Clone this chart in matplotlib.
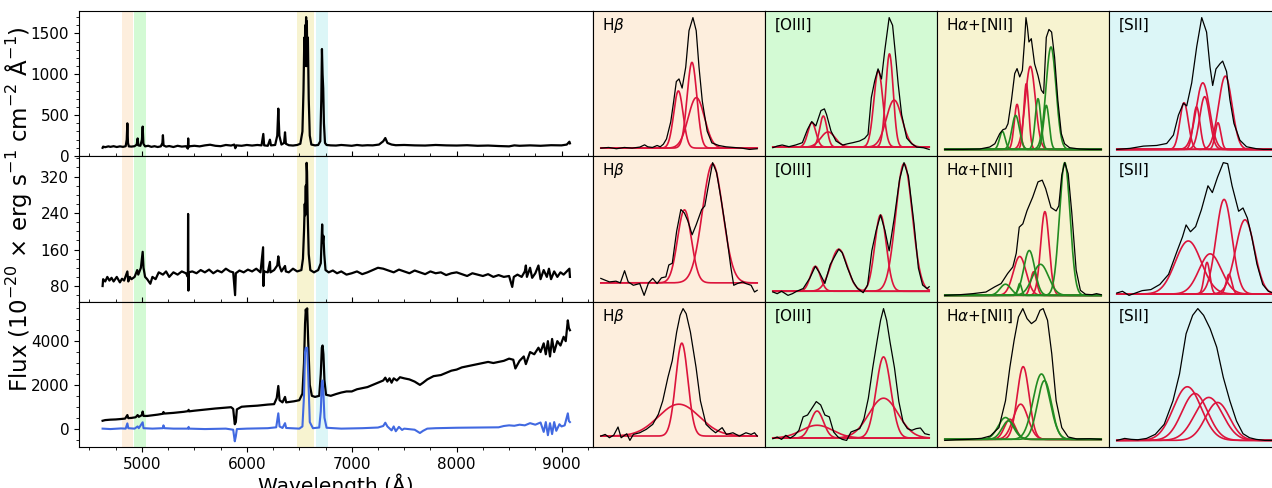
import numpy as np
import matplotlib
matplotlib.use('Agg')
import matplotlib.pyplot as plt
from matplotlib.ticker import AutoMinorLocator, MultipleLocator

# ---------------- full spectra (left column) ----------------
top_wave = [4625, 4630, 4650, 4680, 4700, 4730, 4760, 4790, 4820, 4845, 4855, 4861, 4867, 4875, 4900, 4930, 4950, 4959, 4966, 4985,
            5000, 5007, 5014, 5030, 5060, 5090, 5120, 5150, 5180, 5195, 5200, 5206, 5230, 5260, 5300, 5340, 5380, 5420, 5438, 5441,
            5444, 5460, 5500, 5550, 5600, 5650, 5700, 5750, 5800, 5850, 5880, 5890, 5900, 5950, 6000, 6050, 6100, 6140, 6157, 6165,
            6200, 6220, 6230, 6270, 6290, 6300, 6310, 6330, 6355, 6364, 6372, 6400, 6440, 6480, 6510, 6530, 6540, 6548, 6552, 6556,
            6560, 6565, 6568, 6572, 6576, 6582, 6590, 6600, 6615, 6650, 6680, 6700, 6710, 6716, 6722, 6728, 6735, 6745, 6760, 6800,
            6850, 6900, 6950, 7000, 7050, 7100, 7150, 7200, 7260, 7300, 7320, 7340, 7380, 7420, 7500, 7600, 7700, 7800, 7900, 8000,
            8100, 8200, 8300, 8400, 8500, 8550, 8600, 8700, 8800, 8900, 9000, 9050, 9075, 9080]
top_flux = [100, 115, 108, 118, 112, 120, 110, 118, 112, 120, 200, 400, 160, 118, 115, 120, 140, 215, 130, 125,
            200, 360, 150, 118, 125, 112, 120, 110, 118, 160, 255, 130, 115, 122, 110, 125, 115, 120, 90, 215,
            110, 120, 125, 118, 130, 138, 125, 120, 135, 128, 140, 95, 130, 125, 135, 128, 135, 130, 270, 130,
            125, 200, 130, 135, 250, 580, 250, 140, 160, 290, 150, 132, 128, 135, 150, 300, 800, 1450, 1100, 1600,
            1300, 1700, 1100, 1650, 1200, 1450, 700, 250, 140, 130, 135, 180, 700, 1310, 1000, 830, 400, 160, 135, 130,
            128, 135, 130, 125, 135, 128, 132, 130, 140, 180, 220, 160, 140, 132, 135, 130, 128, 135, 130, 128,
            132, 125, 128, 122, 118, 130, 125, 130, 125, 132, 130, 140, 175, 155]

mid_wave = [4625, 4630, 4650, 4670, 4690, 4710, 4730, 4760, 4790, 4810, 4830, 4850, 4861, 4870, 4885, 4900, 4930, 4955, 4965, 4990,
            5007, 5015, 5030, 5050, 5080, 5100, 5130, 5160, 5200, 5230, 5260, 5300, 5340, 5380, 5420, 5438, 5440, 5443, 5446, 5480,
            5520, 5560, 5600, 5640, 5680, 5720, 5760, 5800, 5840, 5870, 5888, 5895, 5930, 5970, 6010, 6050, 6090, 6130, 6155, 6158,
            6165, 6200, 6220, 6225, 6260, 6290, 6300, 6310, 6330, 6364, 6372, 6400, 6440, 6480, 6520, 6535, 6545, 6552, 6556, 6562,
            6566, 6570, 6574, 6580, 6590, 6605, 6640, 6680, 6705, 6712, 6718, 6724, 6730, 6738, 6750, 6780, 6820, 6860, 6900, 6950,
            7000, 7050, 7100, 7150, 7200, 7250, 7300, 7350, 7400, 7450, 7500, 7550, 7600, 7650, 7700, 7750, 7800, 7850, 7900, 7950,
            8000, 8050, 8100, 8150, 8200, 8250, 8300, 8350, 8400, 8450, 8500, 8530, 8545, 8580, 8620, 8650, 8660, 8670, 8700, 8720,
            8750, 8780, 8800, 8830, 8860, 8880, 8900, 8930, 8960, 8990, 9020, 9050, 9075, 9080]
mid_flux = [80, 95, 90, 100, 92, 98, 90, 100, 88, 96, 92, 105, 112, 90, 100, 95, 100, 115, 105, 120,
            155, 120, 100, 95, 85, 100, 95, 110, 105, 112, 100, 110, 105, 112, 108, 100, 238, 70, 110, 112,
            108, 115, 110, 116, 108, 114, 110, 118, 112, 110, 60, 108, 114, 110, 116, 112, 118, 110, 165, 80,
            112, 110, 133, 110, 115, 125, 145, 125, 112, 124, 112, 110, 118, 112, 115, 140, 200, 260, 235, 300,
            240, 350, 330, 240, 150, 115, 110, 115, 130, 175, 215, 175, 190, 150, 115, 110, 114, 108, 112, 105,
            108, 112, 106, 110, 115, 120, 118, 114, 110, 116, 112, 108, 114, 110, 106, 112, 108, 110, 104, 108,
            110, 106, 102, 108, 105, 102, 106, 100, 104, 100, 102, 78, 100, 105, 100, 112, 125, 100, 120, 98,
            108, 125, 95, 115, 100, 118, 95, 112, 100, 110, 105, 112, 118, 100]

bot_wave = [4625, 4650, 4700, 4750, 4800, 4840, 4861, 4870, 4900, 4940, 4959, 4970, 5000, 5007, 5015, 5050, 5100, 5150, 5200, 5205,
            5215, 5300, 5400, 5440, 5445, 5450, 5500, 5600, 5700, 5800, 5850, 5870, 5885, 5895, 5905, 5950, 6000, 6100, 6200, 6260,
            6285, 6300, 6312, 6340, 6364, 6375, 6450, 6500, 6530, 6545, 6555, 6562, 6568, 6575, 6585, 6600, 6620, 6650, 6690, 6705,
            6715, 6722, 6730, 6740, 6755, 6800, 6850, 6900, 6950, 7000, 7050, 7100, 7150, 7200, 7250, 7300, 7320, 7340, 7360, 7380,
            7400, 7430, 7460, 7500, 7550, 7600, 7650, 7680, 7720, 7780, 7850, 7900, 7950, 8000, 8050, 8100, 8150, 8200, 8250, 8300,
            8350, 8400, 8450, 8500, 8540, 8560, 8600, 8640, 8660, 8700, 8740, 8780, 8800, 8830, 8850, 8870, 8890, 8910, 8930, 8960,
            8990, 9020, 9040, 9060, 9070, 9080]
bot_flux = [360, 390, 410, 420, 440, 460, 620, 480, 490, 520, 620, 540, 620, 780, 580, 580, 610, 640, 680, 760,
            690, 720, 770, 800, 860, 790, 820, 870, 920, 960, 980, 900, 200, 300, 880, 1000, 1020, 1050, 1100, 1120,
            1400, 1950, 1300, 1200, 1450, 1200, 1250, 1300, 1600, 3000, 4800, 5450, 5200, 5500, 4000, 2000, 1500, 1450, 1500, 2500,
            3700, 3800, 3400, 2200, 1550, 1500, 1580, 1650, 1700, 1700, 1800, 1850, 1900, 2000, 2100, 2200, 2330, 2150, 2300, 2100,
            2300, 2200, 2350, 2300, 2250, 2150, 2000, 2100, 2250, 2400, 2450, 2550, 2650, 2700, 2800, 2850, 2900, 2950, 3000, 3050,
            3000, 3050, 3100, 3200, 3150, 2750, 3100, 3300, 2950, 3500, 3400, 3700, 3500, 3900, 3400, 4000, 3300, 4100, 3500, 4000,
            3800, 4200, 4000, 4950, 4600, 4500]

emis_wave = [4625, 4700, 4800, 4845, 4861, 4870, 4930, 4959, 4970, 5007, 5015, 5100, 5200, 5205, 5215, 5300, 5440, 5445, 5450, 5600,
             5800, 5870, 5885, 5895, 5905, 6000, 6200, 6280, 6300, 6312, 6340, 6364, 6375, 6500, 6530, 6545, 6555, 6562, 6570, 6575,
             6585, 6600, 6630, 6690, 6705, 6715, 6722, 6730, 6740, 6760, 6900, 7100, 7250, 7300, 7320, 7340, 7380, 7400, 7420, 7450,
             7480, 7500, 7600, 7650, 7680, 7720, 7800, 8000, 8200, 8400, 8450, 8500, 8550, 8600, 8650, 8700, 8750, 8800, 8830, 8850,
             8870, 8890, 8910, 8930, 8950, 8980, 9000, 9030, 9060, 9070, 9080]
emis_flux = [0, -20, 10, 0, 240, 20, 0, 100, 20, 290, 20, 0, 20, 150, 20, 0, 0, 80, 0, -20,
             0, -50, -580, -350, -20, 0, 20, 60, 700, 100, 30, 250, 30, 0, 100, 1500, 3500, 3700, 3650, 3700,
             2500, 300, 20, 50, 800, 2100, 2200, 1600, 500, 40, 0, 20, 50, 120, 270, 100, -80, 100, -120, 80,
             -60, 0, -50, -200, -100, 0, 20, 40, 50, 60, 120, 150, 130, 180, 150, 250, 180, 280, -150, 300,
             -300, 250, -250, 300, -100, 200, 100, 150, 700, 350, 300]

# wavelength windows highlighted in the full spectra
band_lo = [4810, 4920, 6474, 6657]
band_hi = [4914, 5037, 6638, 6773]
band_colors = ['#fdeedd', '#d3fad4', '#f7f3d0', '#dcf6f7']
line_names = [r'H$\beta$', '[OIII]', r'H$\alpha$+[NII]', '[SII]']

# ---------------- line zooms (x: relative position 0-100, y: % of peak) ----------------
# row 1
hb1_x = [0, 5, 10, 15, 20, 25, 28, 30, 33, 36, 38, 40, 42, 44.7, 46.5, 48.3, 50, 52, 54.3, 56.4, 58.9, 61, 62.8, 64.9, 68, 71, 75.5, 80, 85, 90, 95, 100]
hb1_y = [0, 0.5, -0.5, 0.5, 0, 0.8, 2.5, 1, 0.5, 2, 1, 3, 7, 20, 35, 51, 53, 46, 62, 90, 100, 90, 62, 36, 13, 4, 2, 1, 0.5, 0, -1, -0.5]
hb1_cen = [49.6, 58.3, 61.1]
hb1_amp = [43.8, 65.7, 38.7]
hb1_sig = [3.0, 3.1, 5.2]

o31_x = [0, 2.8, 6, 10.3, 14.6, 18.9, 22.2, 24.9, 27.5, 30.8, 33, 34.4, 37.2, 40.4, 44.7, 48, 51.2, 55.5, 58.7, 60.9, 63, 65.2,
         67.3, 69.5, 71.6, 74.4, 76.6, 78.1, 80.2, 82.4, 85.6, 88.8, 92, 96.3, 100]
o31_y = [-0.5, 0.8, 1.6, 0.3, 1.6, 3.4, 13.7, 19.7, 16.3, 28.2, 29.5, 25, 12.4, 4.7, 1.6, 2.6, 3.4, 4.7, 6.7, 9.8, 38.3, 51.3,
         60.4, 52.6, 74.6, 100, 94, 75.6, 48.4, 25, 7, 2.6, 0, -0.5, -1.8]
o31_cen = [25, 32.3, 35.3, 67.5, 74.6, 77.6]
o31_amp = [18.9, 24, 11.7, 59, 72, 36.3]
o31_sig = [2.6, 2.3, 4.6, 2.9, 2.4, 5.0]

ha1_x = [0, 11.7, 22.3, 28.7, 32, 35.1, 37.2, 38.9, 40.4, 42.6, 44.7, 46.2, 47.9, 49.6, 51.1, 51.9, 52.8, 53.8, 55.3, 57.4, 59.6,
         61.7, 63.2, 64.9, 66.6, 68.3, 70.2, 72.3, 74.5, 76.6, 79.8, 86.2, 92.6, 100]
ha1_y = [0, 0, 0.3, 1.8, 4.3, 11.9, 15, 15.7, 19.5, 37.2, 57.5, 61.3, 55, 60, 84, 100, 93, 81.5, 84, 65, 56,
         45, 42.5, 85, 91, 89, 70, 37, 12, 4.3, 1.3, 0.3, 0, 0]
ha1_red_cen = [46.2, 52.1, 54.7]
ha1_red_amp = [34.2, 49.9, 63]
ha1_red_sig = [1.8, 1.6, 3.2]
ha1_grn_cen = [36.8, 45.3, 59.6, 64.9, 67.9]
ha1_grn_amp = [13.7, 25.8, 38.5, 33.4, 77.7]
ha1_grn_sig = [1.8, 2.4, 1.8, 1.8, 3.2]

s21_x = [0, 8.5, 17, 25.5, 31.9, 36.2, 39.4, 42.6, 44.7, 47.9, 51.1, 54.3, 57.4, 59.6, 61.3, 63.4, 66, 67.7, 70.2, 72.3, 74.9,
         78.7, 83, 89.4, 93.6, 100]
s21_y = [0, 0.8, 2.5, 3, 4.5, 10.9, 26, 35, 33, 50.5, 78, 100, 89, 62.6, 48.5, 61, 65, 67, 59, 37.9, 19.7,
         7, 2, 0.5, 0, 0]
s21_cen = [43, 51, 55, 56.2, 64.7, 69.4]
s21_amp = [35.4, 32.3, 50.5, 40, 20.2, 55.6]
s21_sig = [2.7, 2.2, 4.3, 3.2, 1.8, 4.3]

# row 2
hb2_x = [0, 2.8, 5.5, 9.7, 12.5, 15.2, 17.5, 20.8, 24.9, 27.7, 30.5, 33.2, 36, 38.8, 41.6, 43.5, 45.7, 48.5, 51.2, 53.5, 55.7,
         58.4, 60.9, 64.5, 66.5, 68.4, 71.5, 74, 77, 80.3, 83.1, 85, 87.3, 90.6, 92.8, 96.1, 98.3, 100]
hb2_y = [3.7, 2.2, 0.8, 1.4, 0, 10.1, 0.8, -2, -0.6, -10.4, 0, 3.7, -0.6, 4.2, 5, 14.9, 16.3, 43, 61, 58, 51.4,
         40, 48, 61, 64, 78, 100, 92, 69, 41, 13.5, -2, -0.6, 0.8, -0.6, -2, -7.6, -6.2]
hb2_cen = [53.5, 71.5]
hb2_amp = [60.7, 99]
hb2_sig = [4.4, 6.5]

o32_x = [0, 2.8, 5.6, 9.7, 12.5, 15.3, 19.4, 23.6, 27.2, 30, 33.3, 36.7, 40.3, 42.2, 44.4, 47.8, 51.4, 54.2, 57.8, 60.6, 63.3,
         66.1, 68.9, 71.7, 74.4, 77.8, 81.1, 83.9, 86.7, 90.3, 93.1, 95.8, 98.6, 100]
o32_y = [-0.5, -1.9, 0, -3.2, -1.9, 0, 2.1, 10.1, 19.4, 14.1, 6.1, 20.7, 28.7, 32.7, 30, 18, 7.4, 2.1, -1.1, 4.8, 31.4,
         47.3, 59.3, 47.3, 31.4, 58, 87.2, 100, 89.6, 52.4, 18, 4.8, 2.1, 3.5]
o32_cen = [27.2, 42.2, 68.9, 83.9]
o32_amp = [19.4, 32.7, 59.3, 99.2]
o32_sig = [3.2, 5.3, 3.7, 5.3]

ha2_x = [0, 9.7, 18, 26.3, 31.9, 36, 40.2, 43.5, 45.7, 47.6, 49.9, 52.6, 56.2, 59.6, 62.3, 64.5, 67.9, 71.2, 72.9, 74.8, 76.7,
         78.9, 81.2, 84, 86.7, 90, 94.2, 97, 100]
ha2_y = [0, 0.5, 1.3, 2.5, 6.4, 8.9, 16.5, 21.4, 31.8, 51.4, 53.9, 63.9, 74, 85.5, 86.8, 80.4, 66.2, 63.6, 67.4, 90.6, 100,
         91.6, 62.3, 19, 3.8, 0.8, 0.5, 1.3, 0.5]
ha2_red_cen = [47.9, 56.8, 64]
ha2_red_amp = [29.3, 17.8, 63.1]
ha2_red_sig = [4.1, 1.9, 2.7]
ha2_grn_cen = [38.8, 47.9, 54, 61.2, 76.7]
ha2_grn_amp = [8.4, 8.9, 33.8, 23.4, 100]
ha2_grn_sig = [3.5, 1.2, 3.5, 5.1, 3.4]

s22_x = [0, 3.6, 7.8, 12, 16.2, 21.8, 27.5, 33.1, 38.7, 42, 44.3, 47.1, 50.4, 54.1, 58.3, 61.1, 64.4, 68.1, 70.9, 73.7, 77.9,
         80.7, 83.5, 86.3, 89.6, 93.3, 96.9, 100]
s22_y = [0.8, 2.1, -1, 0.8, 2.6, 3.4, 7.3, 15, 33.2, 43.5, 52.6, 47.4, 51.3, 64.2, 82.4, 77.2, 88.9, 100, 99.2, 82.4, 63,
         65.5, 57.8, 43.5, 22.8, 7.3, 2.1, 0.8]
s22_cen = [45.7, 57.7, 59.7, 68.6, 71.7, 82]
s22_amp = [40.4, 24.1, 30.6, 72, 15, 56.5]
s22_sig = [8.3, 1.8, 7.1, 5.1, 1.8, 6.0]

# row 3
hb3_x = [0, 2.8, 5.5, 8.3, 11, 13, 16.6, 18.6, 20.8, 24.9, 29.1, 33.2, 36.8, 39.6, 42.9, 45.7, 48.5, 50.7, 52.6, 54.6, 57.3,
         60.9, 63.7, 67.3, 70.6, 73.4, 77.6, 80.3, 84.5, 88.6, 92.8, 96.1, 98.3, 100]
hb3_y = [0, 1.3, -1.3, 0.8, 7.1, -1.3, 1.8, -3.4, 1.3, 2.6, 5.3, 9.2, 17.1, 27.6, 46, 59.2, 81.6, 94.7, 100, 96, 81.6,
         53.9, 27.6, 9.2, 5.3, 2.6, 6.6, 1.3, 2.6, 0, 2.6, 1.3, 2.6, 0]
hb3_cen = [51.8, 49.9]
hb3_amp = [72.9, 25]
hb3_sig = [3.9, 13.2]

o33_x = [0, 2.8, 5.6, 8.3, 11.1, 13.9, 16.7, 19.4, 22.2, 25, 27.8, 30.6, 33.3, 36.1, 38.9, 41.7, 44.4, 47.2, 50, 52.8, 55.6,
         58.3, 61.1, 63.9, 66.7, 68.9, 70.8, 72.8, 75, 77.8, 80.6, 83.3, 86.1, 88.9, 91.7, 94.4, 97.2, 100]
o33_y = [-0.5, 0.8, -1, 2.1, 0, 2.1, 6, 16.4, 17.8, 23, 28.2, 25.6, 17.8, 16.4, 4.7, 0.8, -1, -1.8, 4.7, 6, 7.3,
         15, 30.8, 54.3, 75.2, 90.9, 100, 90.9, 73.9, 54.3, 28.2, 12.5, 7.3, 6, 7.3, 7.8, 3.4, 2.6]
o33_cen = [28.3, 28.3, 70.8, 70.8]
o33_amp = [20.9, 9.9, 62.7, 30.8]
o33_sig = [4.1, 10, 4.7, 9.4]

ha3_x = [0, 6.9, 15.2, 23.5, 29.1, 34.6, 38.8, 41.6, 44.3, 47.1, 49.9, 52.6, 55.4, 58.2, 60.9, 62.9, 65.7, 68.4, 71.2, 74.8,
         78.9, 84.5, 92.8, 100]
ha3_y = [-0.8, -0.3, 0, 0.8, 2.6, 9, 29.5, 55.1, 75.6, 93.6, 100, 92.3, 88.5, 91, 98.7, 100, 91, 65.4, 29.5, 9,
         1.8, 0.3, 0.5, 0]
ha3_red_cen = [41.6, 48.5, 50.1]
ha3_red_amp = [15.4, 26.9, 55.6]
ha3_red_sig = [3.5, 4.7, 3.8]
ha3_grn_cen = [38.8, 40.7, 61.8, 63.7]
ha3_grn_amp = [16.7, 14.1, 50, 44.9]
ha3_grn_sig = [4.7, 4.1, 5.3, 4.5]

s23_x = [0, 5, 9.2, 13.4, 19, 24.6, 30.3, 35.9, 40.1, 44.3, 48.5, 51.8, 55.5, 59.7, 63.9, 68.1, 72.3, 76.5, 80.7, 84.9,
         89.1, 94.7, 100]
s23_y = [0, 1.5, 0.8, 0.5, 1.5, 4.6, 12.2, 30, 50.4, 80.9, 94.9, 100, 94.9, 84.7, 70.7, 47.8, 30, 14.8, 5.1, 2,
         0.8, 0, 0]
s23_cen = [45.1, 49.9, 58.8, 64.4]
s23_amp = [40.7, 35.6, 32.6, 28.8]
s23_sig = [8.9, 8.3, 8.9, 7.7]

# ------------------------------------------------------------------
W, H = 1272, 488
fig = plt.figure(figsize=(W / 100, H / 100), dpi=100)


def add_px_axes(x0, y0, x1, y1):
    return fig.add_axes([x0 / W, 1 - y1 / H, (x1 - x0) / W, (y1 - y0) / H])


def gauss(x, c, a, s):
    return a * np.exp(-0.5 * ((x - c) / s) ** 2)


row_edges = [(11, 156), (156, 302), (302, 447)]
col_edges = [(593, 765), (765, 937), (937, 1109), (1109, 1281)]

# left column
left_axes = []
for i, (y0, y1) in enumerate(row_edges):
    ax = add_px_axes(79, y0, 593, y1)
    for lo, hi, c in zip(band_lo, band_hi, band_colors):
        ax.axvspan(lo, hi, color=c, lw=0, zorder=0)
    ax.set_xlim(4400, 9300)
    ax.xaxis.set_major_locator(MultipleLocator(1000))
    ax.xaxis.set_minor_locator(MultipleLocator(250))
    ax.yaxis.set_minor_locator(AutoMinorLocator())
    ax.tick_params(axis='y', labelsize=11)
    ax.tick_params(axis='x', labelsize=11)
    if i < 2:
        ax.tick_params(axis='x', which='both', direction='in', labelbottom=False)
    left_axes.append(ax)

ax = left_axes[0]
ax.plot(top_wave, top_flux, color='k', lw=1.6)
ax.set_ylim(0, 1775)
ax.set_yticks([0, 500, 1000, 1500])

ax = left_axes[1]
ax.plot(mid_wave, mid_flux, color='k', lw=1.6)
ax.set_ylim(45, 365)
ax.set_yticks([80, 160, 240, 320])

ax = left_axes[2]
ax.plot(bot_wave, bot_flux, color='k', lw=1.6)
ax.plot(emis_wave, emis_flux, color='royalblue', lw=1.5)
ax.set_ylim(-840, 5790)
ax.set_yticks([0, 2000, 4000])
ax.set_xticks([5000, 6000, 7000, 8000, 9000])
ax.set_xlabel(u'Wavelength (\u00c5)', fontsize=14.5, labelpad=1)

fig.text(19 / W, 1 - 209 / H, u'Flux (10$^{-20}$ \u00d7 erg s$^{-1}$ cm$^{-2}$ \u00c5$^{-1}$)',
         rotation=90, ha='center', va='center', fontsize=16.5)

# zoom panels
panels = [
    [(hb1_x, hb1_y, [(hb1_cen, hb1_amp, hb1_sig, 'crimson')]),
     (o31_x, o31_y, [(o31_cen, o31_amp, o31_sig, 'crimson')]),
     (ha1_x, ha1_y, [(ha1_red_cen, ha1_red_amp, ha1_red_sig, 'crimson'),
                     (ha1_grn_cen, ha1_grn_amp, ha1_grn_sig, 'forestgreen')]),
     (s21_x, s21_y, [(s21_cen, s21_amp, s21_sig, 'crimson')])],
    [(hb2_x, hb2_y, [(hb2_cen, hb2_amp, hb2_sig, 'crimson')]),
     (o32_x, o32_y, [(o32_cen, o32_amp, o32_sig, 'crimson')]),
     (ha2_x, ha2_y, [(ha2_red_cen, ha2_red_amp, ha2_red_sig, 'crimson'),
                     (ha2_grn_cen, ha2_grn_amp, ha2_grn_sig, 'forestgreen')]),
     (s22_x, s22_y, [(s22_cen, s22_amp, s22_sig, 'crimson')])],
    [(hb3_x, hb3_y, [(hb3_cen, hb3_amp, hb3_sig, 'crimson')]),
     (o33_x, o33_y, [(o33_cen, o33_amp, o33_sig, 'crimson')]),
     (ha3_x, ha3_y, [(ha3_red_cen, ha3_red_amp, ha3_red_sig, 'crimson'),
                     (ha3_grn_cen, ha3_grn_amp, ha3_grn_sig, 'forestgreen')]),
     (s23_x, s23_y, [(s23_cen, s23_amp, s23_sig, 'crimson')])],
]

xx = np.linspace(0, 100, 500)
for r, (y0, y1) in enumerate(row_edges):
    for c, (x0, x1) in enumerate(col_edges):
        ax = add_px_axes(x0, y0, x1, y1)
        ax.set_facecolor(band_colors[c])
        bx, by, comps = panels[r][c]
        ax.plot(bx, by, color='k', lw=0.9, zorder=3)
        for cen, amp, sig, col in comps:
            for cc, aa, ss in zip(cen, amp, sig):
                ax.plot(xx, gauss(xx, cc, aa, ss), color=col, lw=1.2, zorder=2)
        ax.set_xticks([])
        ax.set_yticks([])
        ax.text(0.055, 0.9, line_names[c], transform=ax.transAxes, fontsize=11, va='center', ha='left')

fig.savefig('out.png', dpi=100)
